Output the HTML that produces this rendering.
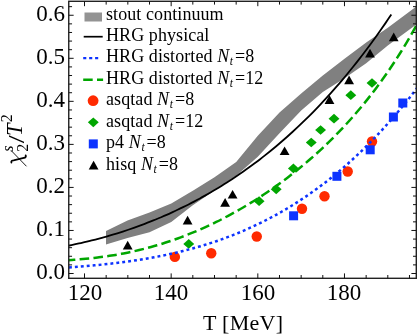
<!DOCTYPE html>
<html><head><meta charset="utf-8"><style>
html,body{margin:0;padding:0;background:#fff;}
body{width:417px;height:336px;position:relative;overflow:hidden;font-family:"Liberation Serif",serif;color:#000;}
.t{will-change:transform;position:absolute;white-space:nowrap;line-height:1;}
.yl{font-size:23px;text-align:right;width:60px;left:5px;}
.xl{font-size:23px;text-align:center;width:60px;}
.lg{font-size:18px;left:105.6px;letter-spacing:0.08px;}
i{font-style:italic;}
sub{font-size:0.64em;vertical-align:baseline;position:relative;top:0.22em;margin-left:0.6px;margin-right:1.9px;}
sup{font-size:0.7em;vertical-align:baseline;position:relative;top:-0.45em;}
</style></head><body>
<svg width="417" height="336" viewBox="0 0 417 336" style="position:absolute;left:0;top:0;will-change:transform">
<defs><clipPath id="c"><rect x="68.75" y="1.30" width="347.55" height="277.00"/></clipPath></defs>
<g clip-path="url(#c)">
<polygon points="106.00,231.10 127.50,220.50 149.50,212.60 171.25,203.40 192.80,190.80 214.50,177.20 236.20,162.00 257.80,135.75 279.50,112.50 301.20,93.50 322.80,75.60 344.50,58.80 366.20,42.60 387.80,27.70 418.00,5.20 418.00,23.30 387.80,45.60 366.20,63.20 344.50,78.20 322.80,92.00 301.20,110.60 279.50,133.20 257.80,156.80 236.20,175.75 214.50,190.50 192.80,205.30 171.25,222.00 149.50,232.30 127.50,238.00 106.00,244.50" fill="#808080"/>
<circle cx="174.85" cy="256.9" r="5.2" fill="#ff2a00"/>
<circle cx="211.25" cy="253.2" r="5.2" fill="#ff2a00"/>
<circle cx="256.75" cy="236.5" r="5.2" fill="#ff2a00"/>
<circle cx="302" cy="208.7" r="5.2" fill="#ff2a00"/>
<circle cx="324.5" cy="196.3" r="5.2" fill="#ff2a00"/>
<circle cx="347.7" cy="171.5" r="5.2" fill="#ff2a00"/>
<circle cx="372" cy="141.5" r="5.2" fill="#ff2a00"/>
<polygon points="183.3,243.9 188.75,239.05 194.2,243.9 188.75,248.75" fill="#00a600"/>
<polygon points="253.65000000000003,201.2 259.1,196.35 264.55,201.2 259.1,206.04999999999998" fill="#00a600"/>
<polygon points="270.75,189.3 276.2,184.45000000000002 281.65,189.3 276.2,194.15" fill="#00a600"/>
<polygon points="287.95,168.4 293.4,163.55 298.84999999999997,168.4 293.4,173.25" fill="#00a600"/>
<polygon points="305.8,142.5 311.25,137.65 316.7,142.5 311.25,147.35" fill="#00a600"/>
<polygon points="315.15000000000003,130 320.6,125.15 326.05,130 320.6,134.85" fill="#00a600"/>
<polygon points="328.55,118.7 334,113.85000000000001 339.45,118.7 334,123.55" fill="#00a600"/>
<polygon points="345.35,95.2 350.8,90.35000000000001 356.25,95.2 350.8,100.05" fill="#00a600"/>
<polygon points="366.55,83 372,78.15 377.45,83 372,87.85" fill="#00a600"/>
<rect x="289.1" y="211.3" width="9" height="9" fill="#0d33ff"/>
<rect x="332.4" y="171.8" width="9" height="9" fill="#0d33ff"/>
<rect x="365.7" y="145.3" width="9" height="9" fill="#0d33ff"/>
<rect x="388.9" y="112.5" width="9" height="9" fill="#0d33ff"/>
<rect x="398.3" y="98.5" width="9" height="9" fill="#0d33ff"/>
<polygon points="122.8,249.39999999999998 132.6,249.39999999999998 127.7,240.79999999999998" fill="#000"/>
<polygon points="182.7,224.45 192.5,224.45 187.6,215.85" fill="#000"/>
<polygon points="220.2,206.7 230.0,206.7 225.1,198.1" fill="#000"/>
<polygon points="227.7,198.6 237.5,198.6 232.6,190.0" fill="#000"/>
<polygon points="279.70000000000005,155.1 289.5,155.1 284.6,146.5" fill="#000"/>
<polygon points="324.6,103.9 334.4,103.9 329.5,95.3" fill="#000"/>
<polygon points="344.20000000000005,84.2 354.0,84.2 349.1,75.6" fill="#000"/>
<polygon points="365.1,57.400000000000006 374.9,57.400000000000006 370,48.800000000000004" fill="#000"/>
<polygon points="388.8,41.2 398.59999999999997,41.2 393.7,32.6" fill="#000"/>
<path d="M68.00,245.76C68.91,245.58 71.65,245.03 73.48,244.65C75.31,244.27 77.13,243.88 78.96,243.47C80.79,243.07 82.61,242.65 84.44,242.23C86.27,241.80 88.09,241.36 89.92,240.92C91.75,240.47 93.57,240.01 95.40,239.53C97.22,239.06 99.05,238.58 100.88,238.08C102.70,237.59 104.53,237.08 106.36,236.56C108.18,236.04 110.01,235.51 111.84,234.97C113.66,234.42 115.49,233.87 117.32,233.30C119.14,232.73 120.97,232.15 122.80,231.56C124.62,230.97 126.45,230.36 128.28,229.75C130.10,229.13 131.93,228.50 133.76,227.86C135.58,227.21 137.41,226.56 139.24,225.89C141.06,225.22 142.89,224.54 144.72,223.84C146.54,223.15 148.37,222.44 150.19,221.71C152.02,220.99 153.85,220.25 155.67,219.50C157.50,218.75 159.33,217.99 161.15,217.21C162.98,216.43 164.81,215.64 166.63,214.83C168.46,214.03 170.29,213.20 172.11,212.37C173.94,211.53 175.77,210.68 177.59,209.81C179.42,208.95 181.25,208.07 183.07,207.17C184.90,206.27 186.73,205.36 188.55,204.43C190.38,203.50 192.21,202.56 194.03,201.60C195.86,200.64 197.69,199.66 199.51,198.67C201.34,197.68 203.16,196.67 204.99,195.64C206.82,194.62 208.64,193.57 210.47,192.51C212.30,191.45 214.12,190.38 215.95,189.28C217.78,188.19 219.60,187.08 221.43,185.95C223.26,184.82 225.08,183.67 226.91,182.50C228.74,181.33 230.56,180.15 232.39,178.95C234.22,177.74 236.04,176.52 237.87,175.28C239.70,174.03 241.52,172.77 243.35,171.49C245.18,170.21 247.00,168.91 248.83,167.59C250.66,166.27 252.48,164.93 254.31,163.57C256.14,162.21 257.96,160.83 259.79,159.42C261.61,158.02 263.44,156.60 265.27,155.15C267.09,153.71 268.92,152.24 270.75,150.75C272.57,149.26 274.40,147.75 276.23,146.22C278.05,144.68 279.88,143.13 281.71,141.55C283.53,139.97 285.36,138.36 287.19,136.74C289.01,135.11 290.84,133.46 292.67,131.79C294.49,130.12 296.32,128.42 298.15,126.70C299.97,124.97 301.80,123.23 303.63,121.45C305.45,119.68 307.28,117.88 309.11,116.06C310.93,114.24 312.76,112.39 314.58,110.51C316.41,108.64 318.24,106.73 320.06,104.81C321.89,102.88 323.72,100.92 325.54,98.94C327.37,96.95 329.20,94.94 331.02,92.90C332.85,90.86 334.68,88.80 336.50,86.70C338.33,84.60 340.16,82.48 341.98,80.33C343.81,78.17 345.64,75.99 347.46,73.77C349.29,71.56 351.12,69.32 352.94,67.04C354.77,64.77 356.60,62.46 358.42,60.12C360.25,57.79 362.08,55.42 363.90,53.02C365.73,50.62 367.55,48.18 369.38,45.72C371.21,43.25 373.03,40.76 374.86,38.22C376.69,35.69 378.51,33.13 380.34,30.53C382.17,27.93 383.99,25.30 385.82,22.63C387.65,19.96 390.39,15.87 391.30,14.52" fill="none" stroke="#000" stroke-width="1.8"/>
<path d="M68.00,267.57C68.99,267.49 71.95,267.27 73.93,267.11C75.91,266.95 77.89,266.79 79.86,266.63C81.84,266.46 83.82,266.29 85.80,266.12C87.77,265.95 89.75,265.77 91.73,265.58C93.71,265.40 95.68,265.21 97.66,265.01C99.64,264.82 101.62,264.61 103.59,264.40C105.57,264.20 107.55,263.98 109.53,263.76C111.50,263.53 113.48,263.30 115.46,263.07C117.44,262.83 119.41,262.58 121.39,262.33C123.37,262.07 125.34,261.81 127.32,261.54C129.30,261.26 131.28,260.98 133.25,260.69C135.23,260.40 137.21,260.10 139.19,259.79C141.16,259.48 143.14,259.16 145.12,258.82C147.10,258.49 149.07,258.15 151.05,257.79C153.03,257.44 155.01,257.07 156.98,256.70C158.96,256.32 160.94,255.93 162.92,255.53C164.89,255.12 166.87,254.71 168.85,254.28C170.82,253.85 172.80,253.41 174.78,252.96C176.76,252.50 178.73,252.04 180.71,251.55C182.69,251.07 184.67,250.57 186.64,250.06C188.62,249.55 190.60,249.02 192.58,248.48C194.55,247.94 196.53,247.38 198.51,246.81C200.49,246.23 202.46,245.64 204.44,245.04C206.42,244.43 208.40,243.81 210.37,243.17C212.35,242.53 214.33,241.87 216.31,241.20C218.28,240.53 220.26,239.83 222.24,239.12C224.21,238.41 226.19,237.68 228.17,236.94C230.15,236.19 232.12,235.42 234.10,234.64C236.08,233.85 238.06,233.05 240.03,232.22C242.01,231.39 243.99,230.55 245.97,229.68C247.94,228.82 249.92,227.93 251.90,227.02C253.88,226.11 255.85,225.19 257.83,224.23C259.81,223.28 261.79,222.31 263.76,221.32C265.74,220.32 267.72,219.30 269.69,218.26C271.67,217.22 273.65,216.16 275.63,215.07C277.60,213.98 279.58,212.87 281.56,211.74C283.54,210.60 285.51,209.44 287.49,208.26C289.47,207.07 291.45,205.87 293.42,204.63C295.40,203.40 297.38,202.14 299.36,200.85C301.33,199.56 303.31,198.25 305.29,196.91C307.27,195.57 309.24,194.20 311.22,192.81C313.20,191.42 315.18,190.00 317.15,188.55C319.13,187.10 321.11,185.62 323.08,184.11C325.06,182.61 327.04,181.07 329.02,179.51C330.99,177.94 332.97,176.35 334.95,174.73C336.93,173.10 338.90,171.45 340.88,169.76C342.86,168.08 344.84,166.36 346.81,164.61C348.79,162.86 350.77,161.09 352.75,159.27C354.72,157.46 356.70,155.62 358.68,153.74C360.66,151.87 362.63,149.96 364.61,148.01C366.59,146.07 368.56,144.09 370.54,142.08C372.52,140.07 374.50,138.02 376.47,135.94C378.45,133.86 380.43,131.74 382.41,129.59C384.38,127.43 386.36,125.25 388.34,123.02C390.32,120.79 392.29,118.53 394.27,116.23C396.25,113.93 398.23,111.59 400.20,109.22C402.18,106.84 404.16,104.43 406.14,101.97C408.11,99.52 410.09,97.03 412.07,94.49C414.05,91.96 417.01,88.06 418.00,86.77" fill="none" stroke="#0d33ff" stroke-width="2.5" stroke-dasharray="2.9 3.05" stroke-dashoffset="5.0"/>
<path d="M68.00,260.25C68.99,260.17 71.95,259.97 73.93,259.82C75.91,259.67 77.89,259.51 79.86,259.34C81.84,259.17 83.82,258.99 85.80,258.80C87.77,258.60 89.75,258.40 91.73,258.18C93.71,257.97 95.68,257.74 97.66,257.49C99.64,257.25 101.62,256.99 103.59,256.72C105.57,256.44 107.55,256.16 109.53,255.85C111.50,255.55 113.48,255.23 115.46,254.90C117.44,254.56 119.41,254.21 121.39,253.84C123.37,253.47 125.34,253.09 127.32,252.69C129.30,252.28 131.28,251.86 133.25,251.43C135.23,250.99 137.21,250.53 139.19,250.06C141.16,249.59 143.14,249.10 145.12,248.59C147.10,248.07 149.07,247.55 151.05,247.00C153.03,246.45 155.01,245.89 156.98,245.30C158.96,244.72 160.94,244.11 162.92,243.49C164.89,242.87 166.87,242.22 168.85,241.56C170.82,240.90 172.80,240.22 174.78,239.52C176.76,238.82 178.73,238.10 180.71,237.36C182.69,236.62 184.67,235.86 186.64,235.08C188.62,234.31 190.60,233.51 192.58,232.69C194.55,231.87 196.53,231.04 198.51,230.18C200.49,229.32 202.46,228.45 204.44,227.55C206.42,226.65 208.40,225.74 210.37,224.80C212.35,223.87 214.33,222.91 216.31,221.93C218.28,220.96 220.26,219.96 222.24,218.94C224.21,217.93 226.19,216.89 228.17,215.83C230.15,214.78 232.12,213.70 234.10,212.60C236.08,211.50 238.06,210.39 240.03,209.25C242.01,208.11 243.99,206.95 245.97,205.76C247.94,204.58 249.92,203.38 251.90,202.16C253.88,200.93 255.85,199.69 257.83,198.42C259.81,197.15 261.79,195.86 263.76,194.55C265.74,193.23 267.72,191.90 269.69,190.54C271.67,189.18 273.65,187.80 275.63,186.39C277.60,184.99 279.58,183.56 281.56,182.10C283.54,180.65 285.51,179.17 287.49,177.66C289.47,176.16 291.45,174.63 293.42,173.07C295.40,171.51 297.38,169.93 299.36,168.31C301.33,166.70 303.31,165.06 305.29,163.39C307.27,161.72 309.24,160.03 311.22,158.30C313.20,156.57 315.18,154.81 317.15,153.02C319.13,151.23 321.11,149.41 323.08,147.55C325.06,145.69 327.04,143.80 329.02,141.87C330.99,139.95 332.97,137.99 334.95,135.99C336.93,133.99 338.90,131.95 340.88,129.88C342.86,127.80 344.84,125.69 346.81,123.53C348.79,121.37 350.77,119.17 352.75,116.93C354.72,114.68 356.70,112.40 358.68,110.06C360.66,107.72 362.63,105.34 364.61,102.91C366.59,100.48 368.56,98.00 370.54,95.46C372.52,92.92 374.50,90.34 376.47,87.69C378.45,85.05 380.43,82.35 382.41,79.59C384.38,76.82 386.36,74.01 388.34,71.12C390.32,68.24 392.29,65.29 394.27,62.27C396.25,59.26 398.23,56.18 400.20,53.02C402.18,49.87 404.16,46.65 406.14,43.34C408.11,40.04 410.09,36.67 412.07,33.21C414.05,29.75 417.01,24.36 418.00,22.59" fill="none" stroke="#00a600" stroke-width="2.5" stroke-dasharray="9.6 4.3" stroke-dashoffset="2.25"/>
</g>
<rect x="68.75" y="1.3" width="347.55" height="277.0" fill="none" stroke="#222" stroke-width="1.4"/>
<path d="M84.50,278.3v-4.9M84.50,1.3v4.9M106.16,278.3v-3.3M106.16,1.3v3.3M127.83,278.3v-3.3M127.83,1.3v3.3M149.50,278.3v-3.3M149.50,1.3v3.3M171.16,278.3v-4.9M171.16,1.3v4.9M192.82,278.3v-3.3M192.82,1.3v3.3M214.49,278.3v-3.3M214.49,1.3v3.3M236.16,278.3v-3.3M236.16,1.3v3.3M257.82,278.3v-4.9M257.82,1.3v4.9M279.49,278.3v-3.3M279.49,1.3v3.3M301.15,278.3v-3.3M301.15,1.3v3.3M322.81,278.3v-3.3M322.81,1.3v3.3M344.48,278.3v-4.9M344.48,1.3v4.9M366.15,278.3v-3.3M366.15,1.3v3.3M387.81,278.3v-3.3M387.81,1.3v3.3M409.48,278.3v-3.3M409.48,1.3v3.3M68.75,273.50h4.9M416.3,273.50h-4.9M68.75,264.89h3.3M416.3,264.89h-3.3M68.75,256.28h3.3M416.3,256.28h-3.3M68.75,247.68h3.3M416.3,247.68h-3.3M68.75,239.07h3.3M416.3,239.07h-3.3M68.75,230.46h4.9M416.3,230.46h-4.9M68.75,221.85h3.3M416.3,221.85h-3.3M68.75,213.24h3.3M416.3,213.24h-3.3M68.75,204.64h3.3M416.3,204.64h-3.3M68.75,196.03h3.3M416.3,196.03h-3.3M68.75,187.42h4.9M416.3,187.42h-4.9M68.75,178.81h3.3M416.3,178.81h-3.3M68.75,170.20h3.3M416.3,170.20h-3.3M68.75,161.60h3.3M416.3,161.60h-3.3M68.75,152.99h3.3M416.3,152.99h-3.3M68.75,144.38h4.9M416.3,144.38h-4.9M68.75,135.77h3.3M416.3,135.77h-3.3M68.75,127.16h3.3M416.3,127.16h-3.3M68.75,118.56h3.3M416.3,118.56h-3.3M68.75,109.95h3.3M416.3,109.95h-3.3M68.75,101.34h4.9M416.3,101.34h-4.9M68.75,92.73h3.3M416.3,92.73h-3.3M68.75,84.12h3.3M416.3,84.12h-3.3M68.75,75.52h3.3M416.3,75.52h-3.3M68.75,66.91h3.3M416.3,66.91h-3.3M68.75,58.30h4.9M416.3,58.30h-4.9M68.75,49.69h3.3M416.3,49.69h-3.3M68.75,41.08h3.3M416.3,41.08h-3.3M68.75,32.48h3.3M416.3,32.48h-3.3M68.75,23.87h3.3M416.3,23.87h-3.3M68.75,15.26h4.9M416.3,15.26h-4.9M68.75,6.65h3.3M416.3,6.65h-3.3" stroke="#111" stroke-width="1" fill="none"/>
<rect x="84.5" y="12.5" width="17.5" height="9" fill="#939393"/>
<path d="M83.7,36.7H102.7" stroke="#000" stroke-width="1.7"/>
<path d="M83.2,58.1H98.3" stroke="#0d33ff" stroke-width="2.4" stroke-dasharray="3.1 2.85"/>
<path d="M83.2,79.7H103.1" stroke="#00a600" stroke-width="2.5" stroke-dasharray="9.5 4.3"/>
<circle cx="93.1" cy="100.7" r="5.4" fill="#ff2a00"/>
<polygon points="87.85,122.3 93.3,117.45 98.75,122.3 93.3,127.14999999999999" fill="#00a600"/>
<rect x="88.8" y="139.4" width="9" height="9" fill="#0d33ff"/>
<polygon points="88.69999999999999,169.39999999999998 98.5,169.39999999999998 93.6,160.79999999999998" fill="#000"/>
<g transform="translate(22.3,165.4) rotate(-90)" font-family="Liberation Serif" font-style="italic" fill="#000"><g transform="rotate(90) translate(-22.3,-165.4)"><path d="M11.4,162.6 C10.9,160.9 12.0,160.4 13.6,160.4 L23.8,157.9 C25.4,157.5 26.3,156.9 25.7,155.4" fill="none" stroke="#000" stroke-width="1.8" stroke-linecap="round"/><path d="M11.2,150.6 L26.2,166.0" fill="none" stroke="#000" stroke-width="0.9" stroke-linecap="round"/></g><text x="13.7" y="5.5" font-size="16" font-style="normal">2</text><text x="13.7" y="-9.6" font-size="16">s</text><text x="22.2" y="1.8" font-size="24" font-style="normal" transform="translate(22.2,0) scale(1.2,1) translate(-22.2,0)">/</text><text x="29.3" y="-0.2" font-size="22.5">T</text><text x="43.1" y="-10.3" font-size="16" font-style="normal">2</text></g>
</svg>
<div class="t yl" style="top:260.20px">0.0</div>
<div class="t yl" style="top:217.16px">0.1</div>
<div class="t yl" style="top:174.12px">0.2</div>
<div class="t yl" style="top:131.08px">0.3</div>
<div class="t yl" style="top:88.04px">0.4</div>
<div class="t yl" style="top:45.00px">0.5</div>
<div class="t yl" style="top:1.96px">0.6</div>
<div class="t xl" style="left:54.50px;top:281px">120</div>
<div class="t xl" style="left:141.16px;top:281px">140</div>
<div class="t xl" style="left:227.82px;top:281px">160</div>
<div class="t xl" style="left:314.48px;top:281px">180</div>
<div class="t" style="font-size:22px;left:202.5px;top:312px;letter-spacing:0.28px">T [MeV]</div>
<div class="t lg" style="top:4.50px">stout continuum</div>
<div class="t lg" style="top:25.93px">HRG physical</div>
<div class="t lg" style="top:47.36px">HRG distorted <i>N<sub>t</sub></i>=8</div>
<div class="t lg" style="top:68.79px">HRG distorted <i>N<sub>t</sub></i>=12</div>
<div class="t lg" style="top:90.22px">asqtad <i>N<sub>t</sub></i>=8</div>
<div class="t lg" style="top:111.65px">asqtad <i>N<sub>t</sub></i>=12</div>
<div class="t lg" style="top:133.08px">p4 <i>N<sub>t</sub></i>=8</div>
<div class="t lg" style="top:154.51px">hisq <i>N<sub>t</sub></i>=8</div>
</body></html>
